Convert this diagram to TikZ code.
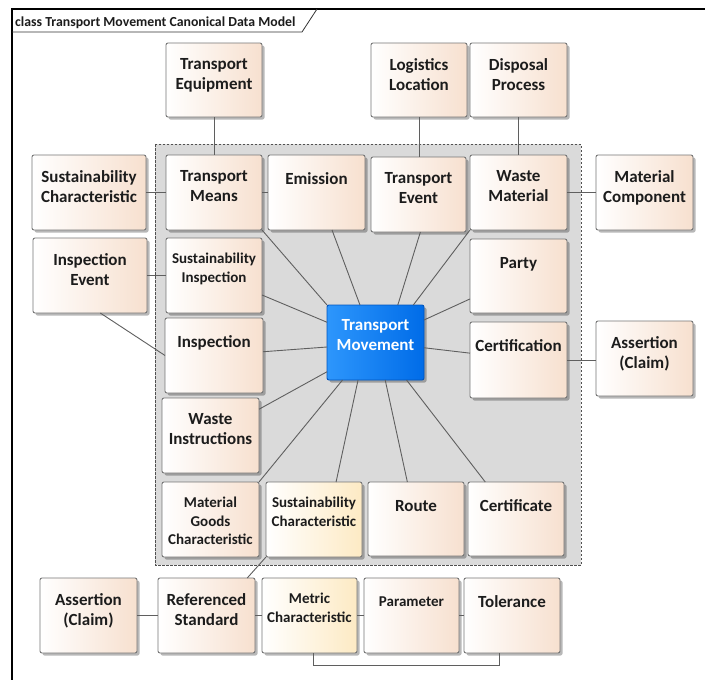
\documentclass[tikz,border=0pt]{standalone}
\usepackage{fontspec}
\setmainfont{Carlito}
\usetikzlibrary{calc,shadows}
\definecolor{peachR}{RGB}{247,224,207}
\definecolor{yellowR}{RGB}{253,234,196}
\definecolor{bordergray}{RGB}{118,118,118}
\definecolor{contgray}{RGB}{218,218,218}
\definecolor{contborder}{RGB}{80,80,80}
\definecolor{linegray}{RGB}{95,95,95}
\definecolor{txtdark}{RGB}{28,28,28}
\definecolor{blueL}{RGB}{45,150,252}
\definecolor{blueR}{RGB}{0,108,232}
\definecolor{blueB}{RGB}{0,85,190}
\tikzset{
  box/.style={draw=bordergray, line width=0.9pt, rounded corners=2pt, inner sep=0pt, outer sep=0pt,
    left color=white, right color=peachR,
    drop shadow={shadow xshift=2.5pt, shadow yshift=-2.5pt, opacity=0.28, fill=black}},
  ybox/.style={left color=white, right color=yellowR},
  bluebox/.style={draw=blueB, left color=blueL, right color=blueR},
  big/.style={anchor=north, yshift=-15.5pt, inner sep=0pt, align=center, text=txtdark,
    font=\bfseries\fontsize{17}{20}\selectfont, execute at begin node=\strut},
  sml/.style={anchor=north, yshift=-15pt, inner sep=0pt, align=center, text=txtdark,
    font=\bfseries\fontsize{15}{18.5}\selectfont, execute at begin node=\strut},
  wht/.style={big, yshift=1pt, text=white},
  conn/.style={draw=linegray, line width=0.9pt},
  container/.style={fill=contgray, draw=contborder, line width=0.9pt, dash pattern=on 2.5pt off 1.5pt},
  frameline/.style={draw=black, line width=2pt},
  tabline/.style={draw=black!80, line width=0.8pt},
  titletext/.style={anchor=base west, inner sep=0pt, text=txtdark, font=\bfseries\fontsize{13.8}{16}\selectfont},
}
\newcommand\umlbox[8][]{%
  \pgfmathsetmacro\bw{#6-#4}%
  \pgfmathsetmacro\bh{#7-#5}%
  \node[box,#1,minimum width=\bw pt,minimum height=\bh pt,label={[#2]north:{#8}}] (#3) at ({(#4+#6)/2},{(#5+#7)/2}) {};}
\begin{document}
\begin{tikzpicture}[x=1pt,y=-1pt]
\useasboundingbox (0,0) rectangle (705,680);
\fill[white] (0,0) rectangle (705,680);
% frame
\draw[frameline] (12,680) -- (12,9) -- (705,9);
\draw[tabline] (12,32) -- (302,32) -- (317,9);
\node[titletext] (title) at (15,26.5) {class Transport Movement Canonical Data Model};
% container
\draw[container] (155,144) rectangle (581,565);
% boxes
\umlbox{big}{teq}{166}{43}{262}{117}{Transport\\Equipment}
\umlbox{big}{loc}{371}{43}{467}{117}{Logistics\\Location}
\umlbox{big}{disp}{470}{43}{567}{117}{Disposal\\Process}
\umlbox{big}{sca}{32}{155}{146}{230}{Sustainability\\Characteristic}
\umlbox{big}{tmeans}{166}{155}{262}{230}{Transport\\Means}
\umlbox{big}{emis}{268}{155}{365}{230}{Emission}
\umlbox{big}{tev}{371}{157}{466}{232}{Transport\\Event}
\umlbox{big}{wm}{470}{155}{567}{230}{Waste\\Material}
\umlbox{big}{mc}{596}{155}{693}{230}{Material\\Component}
\umlbox{big}{iev}{33}{238}{147}{313}{Inspection\\Event}
\umlbox{sml}{sinsp}{166}{238}{262}{313}{Sustainability\\Inspection}
\umlbox{big}{party}{470}{239}{567}{313}{Party}
\umlbox{big}{insp}{165}{318}{263}{393}{Inspection}
\umlbox[bluebox]{wht}{tm}{327}{305}{424}{380}{Transport\\Movement}
\umlbox{big}{cert}{470}{322}{567}{398}{Certification}
\umlbox{big}{aca}{596}{321}{693}{396}{Assertion\\(Claim)}
\umlbox{big}{wi}{162}{398}{259}{473}{Waste\\Instructions}
\umlbox{sml}{mgc}{162}{482}{259}{557}{Material\\Goods\\Characteristic}
\umlbox[ybox]{sml}{scb}{266}{482}{362}{557}{Sustainability\\Characteristic}
\umlbox{big}{route}{368}{482}{464}{556}{Route}
\umlbox{big}{certif}{468}{482}{564}{556}{Certificate}
\umlbox{big}{acb}{40}{578}{137}{653}{Assertion\\(Claim)}
\umlbox{big}{rs}{158}{578}{255}{653}{Referenced\\Standard}
\umlbox[ybox]{sml}{metric}{262}{578}{357}{653}{Metric\\Characteristic}
\umlbox{sml}{param}{364}{578}{459}{653}{Parameter}
\umlbox{big}{tol}{464}{578}{560}{653}{Tolerance}
% outer connectors
\draw[conn] (teq.south) -- (tmeans.north);
\draw[conn] (loc.south) -- (loc.south |- tev.north);
\draw[conn] (disp.south) -- (wm.north);
\draw[conn] (sca.east) -- (tmeans.west);
\draw[conn] (tmeans.east) -- (emis.west);
\draw[conn] (wm.east) -- (mc.west);
\draw[conn] (iev.east) -- (sinsp.west);
\draw[conn] ($(iev.south west)!0.59!(iev.south east)$) -- (insp.west);
\draw[conn] (cert.east) -- (cert.east -| aca.west);
\draw[conn] (scb.south west) -- ($(rs.north west)!0.92!(rs.north east)$);
\draw[conn] (acb.east) -- (rs.west);
\draw[conn] (rs.east) -- (metric.west);
\draw[conn] (metric.east) -- (param.west);
\draw[conn] (param.east) -- (tol.west);
\draw[conn] ($(metric.south west)!0.54!(metric.south east)$) -- ++(0,12) -| ($(tol.south west)!0.365!(tol.south east)$);
% star connectors
\draw[conn] (tmeans.south east) -- (tm.north west);
\draw[conn] ($(emis.south west)!0.66!(emis.south east)$) -- ($(tm.north west)!0.34!(tm.north east)$);
\draw[conn] ($(tev.south west)!0.52!(tev.south east)$) -- ($(tm.north west)!0.73!(tm.north east)$);
\draw[conn] (wm.south west) -- ($(tm.north west)!0.89!(tm.north east)$);
\draw[conn] ($(party.north west)!0.81!(party.south west)$) -- ($(tm.north east)!0.2!(tm.south east)$);
\draw[conn] ($(sinsp.north east)!0.76!(sinsp.south east)$) -- ($(tm.north west)!0.23!(tm.south west)$);
\draw[conn] ($(insp.north east)!0.45!(insp.south east)$) -- ($(tm.north west)!0.56!(tm.south west)$);
\draw[conn] ($(wi.north east)!0.15!(wi.south east)$) -- ($(tm.north west)!0.89!(tm.south west)$);
\draw[conn] ($(tm.north east)!0.57!(tm.south east)$) -- ($(cert.north west)!0.41!(cert.south west)$);
\draw[conn] (mgc.north east) -- ($(tm.south west)!0.16!(tm.south east)$);
\draw[conn] ($(scb.north west)!0.73!(scb.north east)$) -- ($(tm.south west)!0.32!(tm.south east)$);
\draw[conn] ($(tm.south west)!0.6!(tm.south east)$) -- ($(route.north west)!0.41!(route.north east)$);
\draw[conn] ($(tm.south west)!0.82!(tm.south east)$) -- ($(certif.north west)!0.18!(certif.north east)$);
\end{tikzpicture}
\end{document}
